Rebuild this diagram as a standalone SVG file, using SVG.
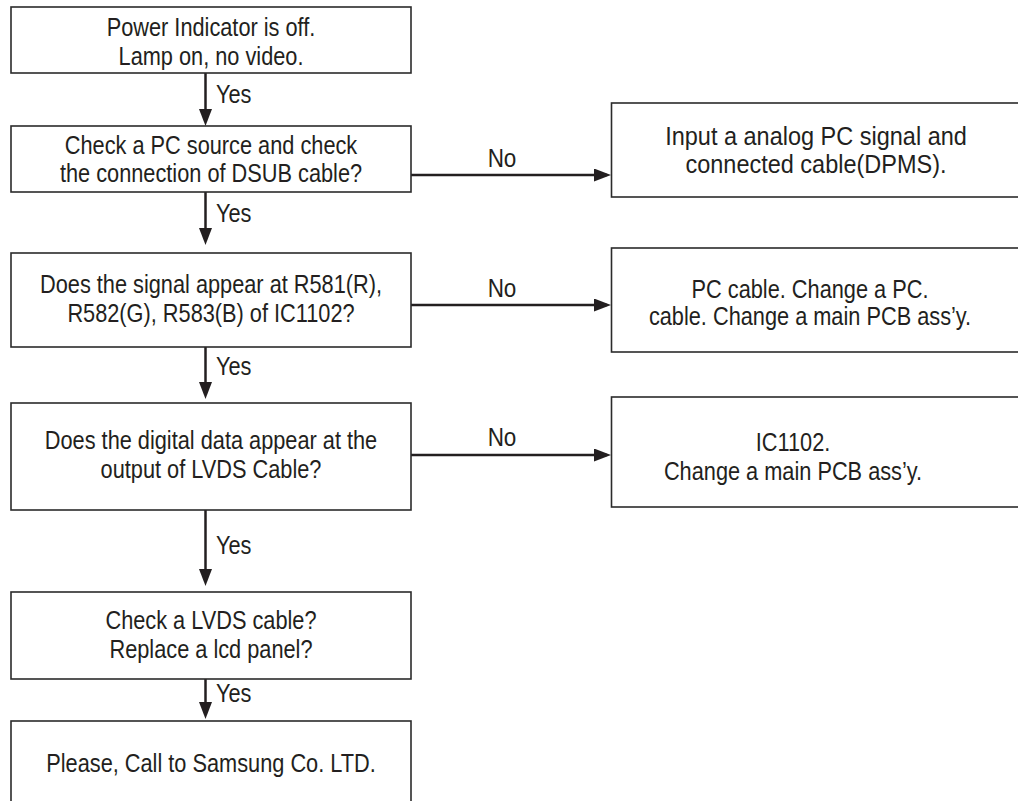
<svg xmlns="http://www.w3.org/2000/svg" width="1018" height="801" viewBox="0 0 1018 801">
<style>
.box{fill:#fff;stroke:#2b2b2b;stroke-width:1.6}
.t{font-family:"Liberation Sans",Arial,sans-serif;font-size:25px;fill:#231f20;text-anchor:middle}
.l{font-family:"Liberation Sans",Arial,sans-serif;font-size:25px;fill:#231f20}
.c{stroke:#231f20;stroke-width:2.5;fill:none}
</style>
<defs>
<marker id="ah" markerUnits="userSpaceOnUse" markerWidth="18" markerHeight="14" refX="13" refY="6.5" orient="auto">
<path d="M0,0 L17,6.5 L0,13 z" fill="#231f20"/>
</marker>
</defs>
<rect width="1018" height="801" fill="#fff"/>
<g id="connectors">
<line class="c" x1="205.5" y1="73" x2="205.5" y2="122" marker-end="url(#ah)"/>
<line class="c" x1="205.5" y1="192" x2="205.5" y2="241" marker-end="url(#ah)"/>
<line class="c" x1="205.5" y1="347" x2="205.5" y2="395" marker-end="url(#ah)"/>
<line class="c" x1="205.5" y1="510" x2="205.5" y2="582" marker-end="url(#ah)"/>
<line class="c" x1="205.5" y1="679" x2="205.5" y2="715" marker-end="url(#ah)"/>
<line class="c" x1="411" y1="175" x2="607" y2="175" marker-end="url(#ah)"/>
<line class="c" x1="411" y1="305" x2="607" y2="305" marker-end="url(#ah)"/>
<line class="c" x1="411" y1="455" x2="607" y2="455" marker-end="url(#ah)"/>
<text class="l" transform="translate(216 103) scale(.87 1)">Yes</text>
<text class="l" transform="translate(216 222) scale(.87 1)">Yes</text>
<text class="l" transform="translate(216 375) scale(.87 1)">Yes</text>
<text class="l" transform="translate(216 554) scale(.87 1)">Yes</text>
<text class="l" transform="translate(216 702) scale(.87 1)">Yes</text>
<text class="t" transform="translate(502 167) scale(.9 1)">No</text>
<text class="t" transform="translate(502 297) scale(.9 1)">No</text>
<text class="t" transform="translate(502 446) scale(.9 1)">No</text>
</g>
<g id="n1">
<rect class="box" x="11" y="7" width="400" height="66"/>
<text class="t" transform="translate(211 36) scale(.87 1)"><tspan x="0">Power Indicator is off.</tspan><tspan x="0" y="29">Lamp on, no video.</tspan></text>
</g>
<g id="n2">
<rect class="box" x="11" y="126" width="400" height="66"/>
<text class="t" transform="translate(211 154) scale(.87 1)"><tspan x="0">Check a PC source and check</tspan><tspan x="0" y="28">the connection of DSUB cable?</tspan></text>
</g>
<g id="n3">
<rect class="box" x="611.5" y="103" width="420" height="94"/>
<text class="t" transform="translate(816 145) scale(.94 1)"><tspan x="0">Input a analog PC signal and</tspan><tspan x="0" y="28">connected cable(DPMS).</tspan></text>
</g>
<g id="n4">
<rect class="box" x="11" y="253" width="400" height="94"/>
<text class="t" transform="translate(211 293) scale(.87 1)"><tspan x="0">Does the signal appear at R581(R),</tspan><tspan x="0" y="29">R582(G), R583(B) of IC1102?</tspan></text>
</g>
<g id="n5">
<rect class="box" x="11" y="403" width="400" height="107"/>
<text class="t" transform="translate(211 449) scale(.87 1)"><tspan x="0">Does the digital data appear at the</tspan><tspan x="0" y="29">output of LVDS Cable?</tspan></text>
</g>
<g id="n6">
<rect class="box" x="611.5" y="248" width="420" height="104"/>
<text class="t" transform="translate(810 298) scale(.87 1)"><tspan x="0">PC cable. Change a PC.</tspan><tspan x="0" y="27">cable. Change a main PCB ass’y.</tspan></text>
</g>
<g id="n7">
<rect class="box" x="611.5" y="397" width="420" height="110"/>
<text class="t" transform="translate(793 451) scale(.87 1)"><tspan x="0">IC1102.</tspan><tspan x="0" y="29">Change a main PCB ass’y.</tspan></text>
</g>
<g id="n8">
<rect class="box" x="11" y="592" width="400" height="87"/>
<text class="t" transform="translate(211 629) scale(.87 1)"><tspan x="0">Check a LVDS cable?</tspan><tspan x="0" y="29">Replace a lcd panel?</tspan></text>
</g>
<g id="n9">
<rect class="box" x="11" y="721" width="400" height="90"/>
<text class="t" transform="translate(211 772) scale(.87 1)">Please, Call to Samsung Co. LTD.</text>
</g>
</svg>
